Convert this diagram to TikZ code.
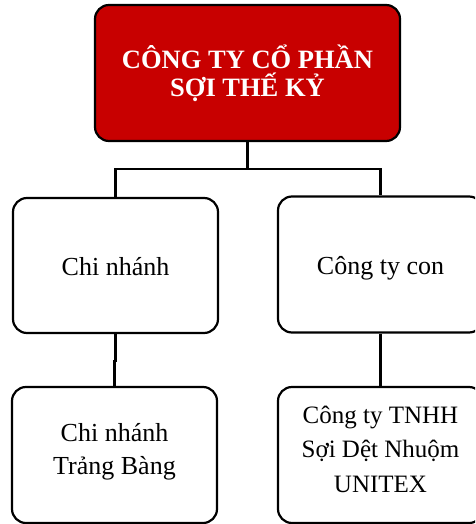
\documentclass[tikz,border=0pt]{standalone}
\usepackage{fontspec}
\setmainfont{Liberation Serif}
\definecolor{boxred}{RGB}{200,0,0}
\begin{document}
\begin{tikzpicture}[x=1pt,y=-1pt,
  box/.style={draw=black,line width=2.2pt,rounded corners=14pt,align=center,inner sep=0pt},
  conn/.style={draw=black,line width=2.2pt},
  txt/.style={align=center,inner sep=0pt}]
\useasboundingbox (0,0) rectangle (475,524);
\begin{scope}
\clip (0,0) rectangle (475,524);
\node[box,fill=boxred,text=white,minimum width=305pt,minimum height=136pt,
  font=\fontsize{26.5}{28}\selectfont\bfseries] (top) at (247.5,73) {CÔNG TY CỔ PHẦN\\SỢI THẾ KỶ};
\node[box,minimum width=205pt,minimum height=135pt,font=\fontsize{26}{32}\selectfont,text height=19pt,text depth=0pt] (cn) at (115.5,265.5) {Chi nhánh};
\node[box,minimum width=205pt,minimum height=136pt,font=\fontsize{26}{32}\selectfont,text height=19pt,text depth=0pt] (cc) at (380.5,264.5) {Công ty con};
\node[box,minimum width=205pt,minimum height=136pt] (bl) at (114.5,455) {};
\node[box,minimum width=205pt,minimum height=136pt] (br) at (380.5,455) {};
\node[txt,font=\fontsize{26}{33}\selectfont] (blt) at ([yshift=3pt]bl.center) {Chi nhánh\\Trảng Bàng};
\node[txt,font=\fontsize{25}{34.5}\selectfont] (brt) at ([yshift=6pt]br.center) {Công ty TNHH\\Sợi Dệt Nhuộm\\UNITEX};
\coordinate (j) at (247.5,169);
\draw[conn] (top.south) -- (j) -| (cn.north);
\draw[conn] (j) -| (cc.north);
\draw[conn] (cn.south) -- ++(0,27) -| (bl.north);
\draw[conn] (cc.south) -- (br.north);
\end{scope}
\end{tikzpicture}
\end{document}
